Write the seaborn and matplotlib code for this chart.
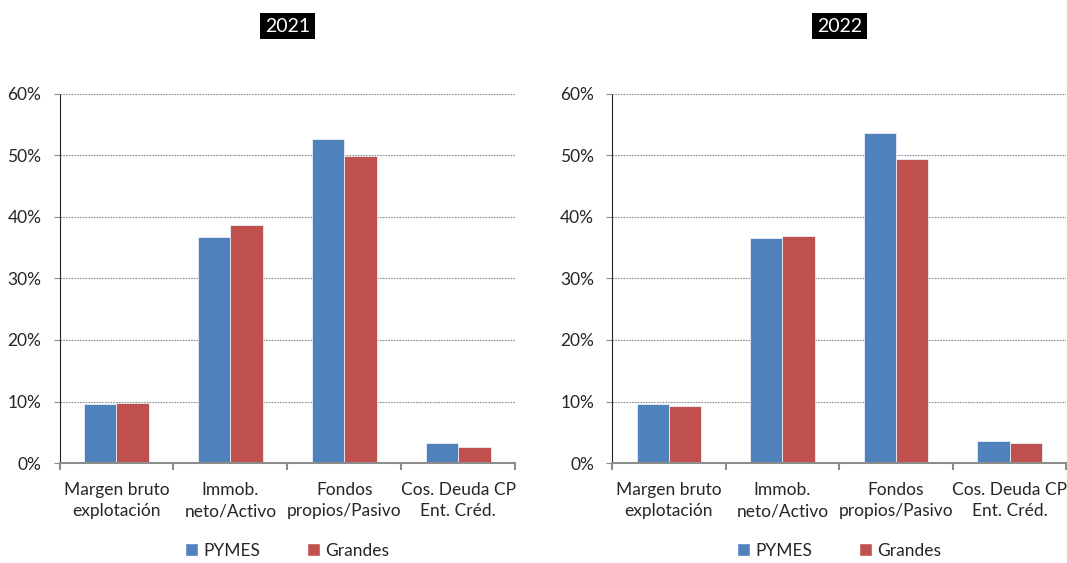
import matplotlib
matplotlib.use("Agg")
import matplotlib.pyplot as plt
import matplotlib.ticker as mticker
from matplotlib.patches import Patch
import pandas as pd
import seaborn as sns

# Datos
indicadores = ["Margen bruto\nexplotación", "Immob.\nneto/Activo",
               "Fondos\npropios/Pasivo", "Cos. Deuda CP\nEnt. Créd."]
tipos = ["PYMES", "Grandes"]
anios = ["2021", "2022"]

pymes_2021 = [0.0963, 0.367, 0.5265, 0.033]
grandes_2021 = [0.0974, 0.387, 0.4995, 0.0265]
pymes_2022 = [0.096, 0.366, 0.536, 0.035]
grandes_2022 = [0.093, 0.3685, 0.495, 0.032]

colores = ["#4F81BD", "#C0504D"]


def armar_df(pymes, grandes):
    filas = []
    for ind, p, g in zip(indicadores, pymes, grandes):
        filas.append({"indicador": ind, "tipo": "PYMES", "valor": p})
        filas.append({"indicador": ind, "tipo": "Grandes", "valor": g})
    return pd.DataFrame(filas)


datos = {
    "2021": armar_df(pymes_2021, grandes_2021),
    "2022": armar_df(pymes_2022, grandes_2022),
}

sns.set_style("white")
plt.rcParams["font.family"] = ["Lato", "DejaVu Sans"]

fig = plt.figure(figsize=(10.67, 5.63), dpi=100)
posiciones = [[0.0558, 0.1776, 0.4270, 0.6555], [0.5738, 0.1776, 0.4255, 0.6555]]

for anio, pos in zip(anios, posiciones):
    ax = fig.add_axes(pos)
    df = datos[anio]

    sns.barplot(data=df, x="indicador", y="valor", hue="tipo", hue_order=tipos,
                palette=colores, saturation=1, width=0.57, ax=ax,
                edgecolor="#e8eef7", linewidth=0.6, legend=False)

    ax.set_ylim(0, 0.6)
    ax.set_xlim(-0.5, 3.5)
    ax.yaxis.set_major_locator(mticker.MultipleLocator(0.1))
    ax.yaxis.set_major_formatter(mticker.PercentFormatter(1.0, decimals=0))
    ax.set_xlabel("")
    ax.set_ylabel("")

    ax.grid(axis="y", linestyle=(0, (1.5, 1)), color="#8c8c8c", linewidth=0.8)
    ax.set_axisbelow(True)

    for lado in ["top", "right"]:
        ax.spines[lado].set_visible(False)
    ax.spines["left"].set_linestyle((0, (1.5, 1)))
    ax.spines["left"].set_color("#222222")
    ax.spines["left"].set_linewidth(0.8)
    ax.spines["bottom"].set_color("#8c8c8c")
    ax.spines["bottom"].set_linewidth(1.5)

    ax.set_xticks(range(len(indicadores)))
    ax.set_xticklabels(indicadores, fontsize=12.5, linespacing=1.35)
    ax.set_xticks([-0.5, 0.5, 1.5, 2.5, 3.5], minor=True)
    ax.tick_params(axis="x", which="major", length=0, pad=14)
    ax.tick_params(axis="x", which="minor", length=5, width=1.5, color="#8c8c8c",
                   direction="out", bottom=True)
    ax.tick_params(axis="y", which="major", length=4, width=0.8, color="#8c8c8c",
                   direction="out", left=True, labelsize=12.5, pad=9)

    ax.text(0.5, 1.184, anio, transform=ax.transAxes, ha="center", va="center",
            fontsize=14, color="white",
            bbox=dict(facecolor="black", edgecolor="none", pad=3.5))

    handles = [Patch(facecolor=c, label=t) for c, t in zip(colores, tipos)]
    ax.legend(handles=handles, loc="center", bbox_to_anchor=(0.5, -0.238), ncol=2,
              frameon=False, fontsize=12.5, handlelength=0.75, handleheight=0.75,
              handletextpad=0.3, columnspacing=2.7)

fig.savefig("out.png", dpi=100)
